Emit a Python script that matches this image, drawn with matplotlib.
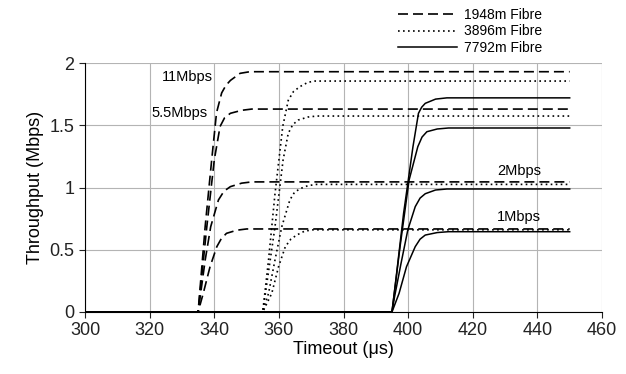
import matplotlib.pyplot as plt

plt.rcParams['font.family'] = ['Liberation Sans', 'DejaVu Sans']

rates = ['11Mbps', '5.5Mbps', '2Mbps', '1Mbps']

# 1948m fibre (dashed)
x_1948 = [
    [300, 335, 337.2, 339.2, 340.7, 342.3, 343.6, 345, 348, 351, 450],
    [300, 335, 337.7, 340, 341.8, 343.2, 345, 348.5, 351.6, 450],
    [300, 335, 337.2, 338.9, 341.3, 343, 345, 348.5, 351.6, 450],
    [300, 335, 336.6, 338.7, 340.8, 342.2, 343.8, 347, 350, 450],
]
y_1948 = [
    [0, 0, 0.69, 1.22, 1.6, 1.76, 1.82, 1.86, 1.917, 1.93, 1.93],
    [0, 0, 0.685, 1.22, 1.49, 1.56, 1.596, 1.62, 1.63, 1.63],
    [0, 0, 0.418, 0.685, 0.9, 0.97, 1.007, 1.035, 1.045, 1.045],
    [0, 0, 0.15, 0.364, 0.525, 0.59, 0.632, 0.657, 0.667, 0.667],
]

# 3896m fibre (dotted)
x_3896 = [
    [300, 355, 356.8, 358.8, 361.2, 362.9, 364.5, 366.5, 369, 371.2, 450],
    [300, 355, 358.8, 361.3, 362.9, 364.3, 366, 369, 371.7, 450],
    [300, 355, 356.8, 358.8, 360.9, 363.4, 364.8, 366.5, 369, 371.7, 450],
    [300, 355, 357.8, 359.9, 362, 363.7, 365.5, 368, 370.6, 450],
]
y_3896 = [
    [0, 0, 0.418, 0.95, 1.49, 1.70, 1.77, 1.81, 1.845, 1.855, 1.855],
    [0, 0, 0.685, 1.22, 1.435, 1.505, 1.542, 1.566, 1.574, 1.574],
    [0, 0, 0.15, 0.418, 0.685, 0.9, 0.96, 0.99, 1.015, 1.025, 1.025],
    [0, 0, 0.15, 0.364, 0.525, 0.585, 0.618, 0.65, 0.66, 0.66],
]

# 7792m fibre (solid)
x_7792 = [
    [300, 395, 396.2, 398.6, 401.5, 403.2, 404.2, 405.3, 408.5, 412, 450],
    [300, 395, 397.5, 400.3, 403, 404.3, 405.8, 409, 412.5, 450],
    [300, 395, 395.8, 397.8, 399.9, 402.2, 403.7, 405.3, 408.5, 412, 450],
    [300, 395, 397.2, 399.5, 402.2, 403.7, 405.3, 409, 412.5, 450],
]
y_7792 = [
    [0, 0, 0.257, 0.793, 1.328, 1.596, 1.645, 1.676, 1.71, 1.72, 1.72],
    [0, 0, 0.525, 1.06, 1.328, 1.405, 1.448, 1.47, 1.478, 1.478],
    [0, 0, 0.122, 0.39, 0.659, 0.846, 0.915, 0.95, 0.98, 0.988, 0.988],
    [0, 0, 0.15, 0.364, 0.525, 0.585, 0.618, 0.638, 0.645, 0.645],
]

fig = plt.figure(figsize=(6.26, 3.74), dpi=100)
ax = fig.add_axes([85 / 626, 62 / 374, 517 / 626, 249 / 374])

dash = (0, (6, 3))
dot = (0, (1, 2))
for i in range(4):
    ax.plot(x_1948[i], y_1948[i], color='black', lw=1.2, linestyle=dash,
            label='1948m Fibre' if i == 0 else None)
for i in range(4):
    ax.plot(x_3896[i], y_3896[i], color='black', lw=1.2, linestyle=dot,
            label='3896m Fibre' if i == 0 else None)
for i in range(4):
    ax.plot(x_7792[i], y_7792[i], color='black', lw=1.1, linestyle='-',
            label='7792m Fibre' if i == 0 else None)

ax.text(339.6, 1.89, rates[0], ha='right', va='center', fontsize=10.5)
ax.text(337.8, 1.6, rates[1], ha='right', va='center', fontsize=10.5)
ax.text(427.5, 1.13, rates[2], ha='left', va='center', fontsize=10.5)
ax.text(427.5, 0.76, rates[3], ha='left', va='center', fontsize=10.5)

ax.set_xlim(300, 460)
ax.set_ylim(0, 2)
ax.set_xticks(range(300, 461, 20))
ax.set_yticks([0, 0.5, 1, 1.5, 2])
ax.set_yticklabels(['0', '0.5', '1', '1.5', '2'])
ax.grid(True, color='#b4b4b4', lw=0.8)
ax.set_axisbelow(True)
for s in ['top', 'right']:
    ax.spines[s].set_visible(False)
ax.spines['left'].set_linewidth(0.8)
ax.spines['bottom'].set_linewidth(0.8)
ax.tick_params(direction='out', length=4, width=0.8, labelsize=13, colors='#222222')
ax.set_xlabel('Timeout (μs)', fontsize=13, labelpad=1)
ax.set_ylabel('Throughput (Mbps)', fontsize=13, labelpad=4)

fig.legend(loc='upper left', bbox_to_anchor=(390 / 626, 1.0), frameon=False,
           fontsize=10, handlelength=4.3, handletextpad=0.5, labelspacing=0.2,
           borderaxespad=0.15)

fig.savefig('out.png', dpi=100)
